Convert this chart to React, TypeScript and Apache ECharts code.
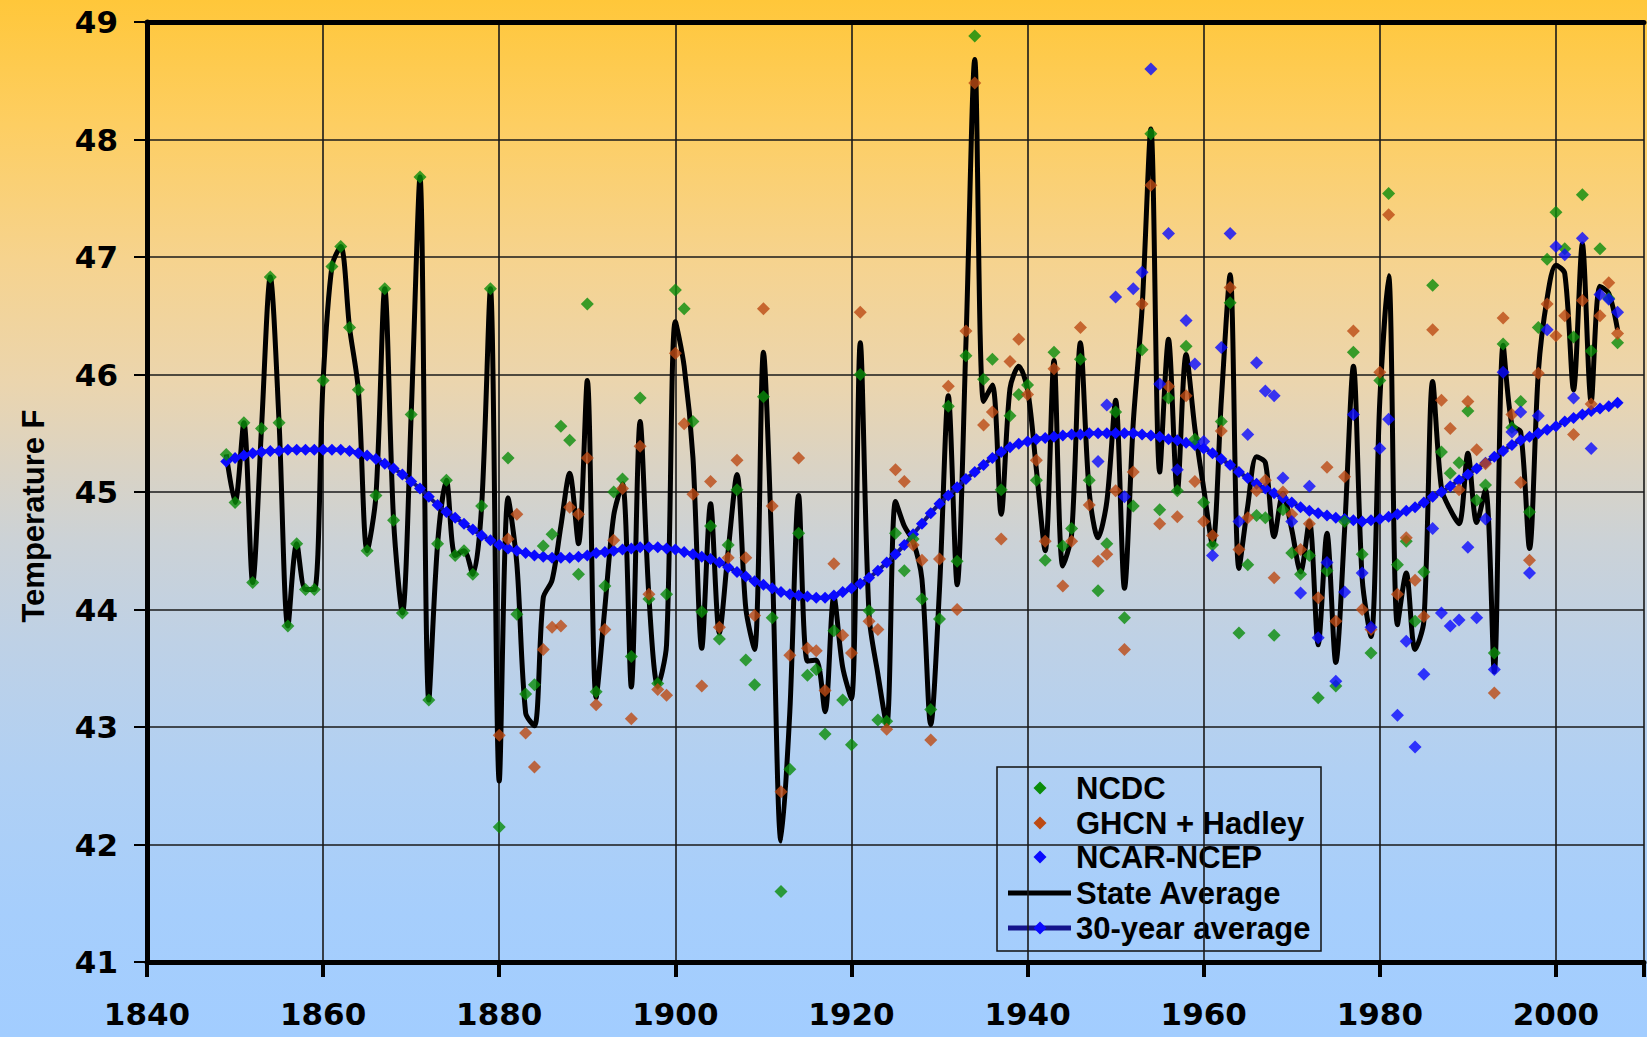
import React, { useEffect, useRef } from "react";
import * as echarts from "echarts";

// ---------- data ----------
const ncdcStart = 1849;
const ncdc = [
  45.32, 44.91, 45.59, 44.23, 45.54, 46.83, 45.59, 43.86, 44.56, 44.17, // 1849-1858
  44.17, 45.95, 46.92, 47.09, 46.4, 45.87, 44.5, 44.97, 46.73, 44.76, // 1859-1868
  43.97, 45.66, 47.68, 43.23, 44.56, 45.1, 44.46, 44.5, 44.3, 44.88, // 1869-1878
  46.73, 42.15, 45.29, 43.96, 43.28, 43.36, 44.54, 44.64, 45.56, 45.44, // 1879-1888
  44.3, 46.6, 43.3, 44.2, 45.0, 45.11, 43.6, 45.8, 44.09, 43.37, // 1889-1898
  44.13, 46.72, 46.56, 45.6, 43.98, 44.71, 43.75, 44.55, 45.02, 43.57, // 1899-1908
  43.36, 45.81, 43.93, 41.6, 42.64, 44.65, 43.44, 43.49, 42.94, 43.82, // 1909-1918
  43.23, 42.85, 46.0, 43.99, 43.06, 43.05, 44.65, 44.33, 44.6, 44.09, // 1919-1928
  43.15, 43.92, 45.73, 44.41, 46.16, 48.88, 45.96, 46.13, 45.02, 45.65, // 1929-1938
  45.83, 45.91, 45.1, 44.42, 46.19, 44.54, 44.69, 46.13, 45.1, 44.16, // 1939-1948
  44.56, 45.68, 43.93, 44.88, 46.21, 48.05, 44.85, 45.8, 45.01, 46.24, // 1949-1958
  45.45, 44.91, 44.55, 45.6, 46.61, 43.8, 44.38, 44.8, 44.78, 43.78, // 1959-1968
  44.85, 44.48, 44.3, 44.46, 43.25, 44.33, 43.35, 44.75, 46.19, 44.47, // 1969-1978
  43.63, 45.95, 47.54, 44.38, 44.58, 43.9, 44.32, 46.76, 45.34, 45.16, // 1979-1988
  45.25, 45.69, 44.93, 45.06, 43.63, 46.26, 45.55, 45.77, 44.83, 46.4, // 1989-1998
  46.98, 47.38, 47.07, 46.32, 47.53, 46.2, 47.07, 46.65, 46.27, // 1999-2007
];

const ghcnStart = 1880;
const ghcnHadley = [
  42.93, 44.6, 44.81, 42.95, 42.66, 43.66, 43.85, 43.86, 44.87, 44.81, // 1880s
  45.29, 43.19, 43.83, 44.59, 45.03, 43.07, 45.39, 44.13, 43.32, 43.27, // 1890s
  46.18, 45.58, 44.98, 43.35, 45.09, 43.85, 44.44, 45.27, 44.44, 43.95, // 1900s
  46.56, 44.88, 42.45, 43.61, 45.29, 43.67, 43.65, 43.31, 44.39, 43.78, // 1910s
  43.63, 46.53, 43.9, 43.83, 42.98, 45.19, 45.09, 44.55, 44.42, 42.89, // 1920s
  44.43, 45.9, 44.0, 46.37, 48.48, 45.57, 45.68, 44.6, 46.11, 46.3, // 1930s
  45.83, 45.27, 44.58, 46.05, 44.2, 44.58, 46.4, 44.89, 44.41, 44.47, // 1940s
  45.01, 43.66, 45.17, 46.6, 47.61, 44.73, 45.9, 44.79, 45.82, 45.09, // 1950s
  44.75, 44.63, 45.52, 46.74, 44.51, 44.78, 45.01, 45.1, 44.27, 45.0, // 1960s
  44.81, 44.51, 44.73, 44.1, 45.21, 43.9, 45.13, 46.37, 44.0, 43.83, // 1970s
  46.02, 47.36, 44.13, 44.61, 44.25, 43.94, 46.38, 45.78, 45.54, 45.02, // 1980s
  45.77, 45.36, 45.24, 43.29, 46.48, 45.66, 45.08, 44.42, 46.01, 46.6, // 1990s
  46.33, 46.5, 45.49, 46.63, 45.75, 46.5, 46.78, 46.35, // 2000-2007
];

const ncepStart = 1948;
const ncarNcep = [
  45.26, 45.74, 46.66, 44.96, 46.73, 46.87, 48.6, 45.92, 47.2, 45.19, // 1948-1957
  46.46, 46.09, 45.43, 44.46, 46.23, 47.2, 44.75, 45.49, 46.1, 45.86, // 1958-1967
  45.82, 45.12, 44.75, 44.14, 45.05, 43.76, 44.4, 43.39, 44.15, 45.66, // 1968-1977
  44.31, 43.85, 45.37, 45.62, 43.1, 43.73, 42.83, 43.45, 44.69, 43.97, // 1978-1987
  43.86, 43.91, 44.53, 43.93, 44.77, 43.49, 46.02, 45.51, 45.68, 44.31, // 1988-1997
  45.65, 46.38, 47.09, 47.02, 45.8, 47.16, 45.37, 46.68, 46.64, 46.53, // 1998-2007
];

const stateStart = 1849;
const stateAverage = [
  45.32, 44.91, 45.59, 44.23, 45.54, 46.83, 45.59, 43.86, 44.56, 44.17, // 1849-1858
  44.17, 45.95, 46.92, 47.09, 46.4, 45.87, 44.5, 44.97, 46.73, 44.76, // 1859-1868
  43.97, 45.66, 47.68, 43.23, 44.56, 45.1, 44.46, 44.5, 44.3, 44.88, // 1869-1878
  46.73, 42.54, 44.95, 44.39, 43.12, 43.01, 44.1, 44.25, 44.71, 45.16, // 1879-1888
  44.56, 45.95, 43.25, 44.02, 44.8, 45.07, 43.34, 45.6, 44.11, 43.35, // 1889-1898
  43.7, 46.45, 46.07, 45.29, 43.67, 44.9, 43.8, 44.5, 45.15, 44.01, // 1899-1908
  43.66, 46.19, 44.41, 42.03, 43.13, 44.97, 43.56, 43.57, 43.13, 44.11, // 1909-1918
  43.51, 43.24, 46.27, 43.95, 43.45, 43.02, 44.92, 44.71, 44.58, 44.26, // 1919-1928
  43.02, 44.18, 45.82, 44.21, 46.27, 48.68, 45.77, 45.91, 44.81, 45.88, // 1929-1938
  46.07, 45.87, 45.19, 44.5, 46.12, 44.37, 44.64, 46.27, 45.0, 44.61, // 1939-1948
  44.92, 45.78, 44.18, 45.59, 46.56, 48.09, 45.17, 46.3, 45.0, 46.17, // 1949-1958
  45.54, 45.03, 44.55, 45.78, 46.85, 44.35, 44.88, 45.3, 45.25, 44.62, // 1959-1968
  44.99, 44.68, 44.32, 44.75, 43.7, 44.65, 43.55, 44.68, 46.07, 44.26, // 1969-1978
  43.77, 45.78, 46.84, 43.87, 44.31, 43.66, 43.9, 45.94, 45.03, 44.85, // 1979-1988
  44.73, 45.33, 44.74, 45.02, 43.47, 46.25, 45.57, 45.51, 44.52, 46.02, // 1989-1998
  46.65, 46.93, 46.86, 45.87, 47.11, 45.77, 46.75, 46.69, 46.38, // 1999-2007
];

const avgStart = 1849;
const thirtyYearAverage = [
  45.26, 45.29, 45.31, 45.33, 45.34, 45.35, 45.35, 45.36, 45.36, 45.36, // 1849-1858
  45.36, 45.36, 45.36, 45.36, 45.35, 45.33, 45.31, 45.28, 45.24, 45.2, // 1859-1868
  45.15, 45.09, 45.03, 44.96, 44.89, 44.83, 44.78, 44.73, 44.68, 44.63, // 1869-1878
  44.59, 44.55, 44.52, 44.5, 44.48, 44.46, 44.45, 44.44, 44.44, 44.44, // 1879-1888
  44.45, 44.46, 44.48, 44.49, 44.5, 44.51, 44.52, 44.53, 44.53, 44.53, // 1889-1898
  44.52, 44.51, 44.49, 44.47, 44.45, 44.43, 44.4, 44.36, 44.32, 44.28, // 1899-1908
  44.24, 44.21, 44.18, 44.15, 44.13, 44.12, 44.11, 44.1, 44.1, 44.12, // 1909-1918
  44.15, 44.18, 44.22, 44.27, 44.33, 44.4, 44.47, 44.55, 44.64, 44.73, // 1919-1928
  44.82, 44.9, 44.97, 45.04, 45.11, 45.17, 45.23, 45.29, 45.34, 45.38, // 1929-1938
  45.41, 45.43, 45.45, 45.46, 45.47, 45.48, 45.49, 45.49, 45.5, 45.5, // 1939-1948
  45.5, 45.5, 45.5, 45.5, 45.49, 45.48, 45.47, 45.45, 45.44, 45.42, // 1949-1958
  45.4, 45.37, 45.33, 45.28, 45.23, 45.17, 45.12, 45.07, 45.03, 44.99, // 1959-1968
  44.95, 44.91, 44.87, 44.84, 44.82, 44.8, 44.78, 44.77, 44.76, 44.75, // 1969-1978
  44.76, 44.77, 44.79, 44.81, 44.84, 44.87, 44.91, 44.96, 45.0, 45.05, // 1979-1988
  45.1, 45.15, 45.2, 45.25, 45.3, 45.35, 45.4, 45.44, 45.47, 45.5, // 1989-1998
  45.53, 45.56, 45.6, 45.63, 45.66, 45.69, 45.71, 45.73, 45.76, // 1999-2007
];

const seriesNames = ["NCDC", "GHCN + Hadley", "NCAR-NCEP", "State Average", "30-year average"];
const xTicks = [1840, 1860, 1880, 1900, 1920, 1940, 1960, 1980, 2000];
const yTitle = "Temperature F";

const toPairs = (start: number, arr: number[]) => arr.map((v, i) => [start + i, v]);

const GREEN = "#0A8C0A";
const BROWN = "#BC4A14";
const BLUE = "#0A0AFF";
const NAVY = "#14148C";

const diamond = (cx: number, cy: number, r: number, fill: string) => ({
  type: "polygon",
  shape: { points: [[cx, cy - r], [cx + r, cy], [cx, cy + r], [cx - r, cy]] },
  style: { fill },
});

function buildLegend() {
  const rows = [21, 56, 90, 126, 161];
  const children: any[] = [
    {
      type: "rect",
      shape: { x: 0, y: 0, width: 324, height: 184 },
      style: { fill: "none", stroke: "#111", lineWidth: 1.5 },
    },
  ];
  const markerColors = [GREEN, BROWN, BLUE];
  seriesNames.forEach((name, i) => {
    const cy = rows[i];
    if (i < 3) {
      children.push(diamond(43, cy, 6.5, markerColors[i]));
    } else if (i === 3) {
      children.push({
        type: "line",
        shape: { x1: 11, y1: cy, x2: 74, y2: cy },
        style: { stroke: "#000", lineWidth: 5 },
      });
    } else {
      children.push({
        type: "line",
        shape: { x1: 11, y1: cy, x2: 74, y2: cy },
        style: { stroke: NAVY, lineWidth: 5 },
      });
      children.push(diamond(43, cy, 6.5, BLUE));
    }
    children.push({
      type: "text",
      x: 79,
      y: cy,
      style: {
        text: name,
        font: 'bold 31px "Liberation Sans"',
        fill: "#000",
        align: "left",
        verticalAlign: "middle",
      },
    });
  });
  return { type: "group", x: 997, y: 767, z: 100, children };
}

export default function App() {
  const ref = useRef<HTMLDivElement>(null);

  useEffect(() => {
    const el = ref.current;
    if (!el) return;
    const chart = echarts.init(el, null, { renderer: "svg" });
    const axisFont = { fontFamily: "DejaVu Sans", fontWeight: "bold" as const, fontSize: 31, color: "#000" };

    chart.setOption({
      animation: false,
      backgroundColor: "transparent",
      grid: { left: 147, right: 0, top: 22, bottom: 75, containLabel: false },
      xAxis: [
        {
          type: "value",
          min: 1840,
          max: 2010,
          interval: 20,
          axisLine: { show: true, lineStyle: { color: "#000", width: 5 } },
          axisTick: { show: true, length: 15, lineStyle: { color: "#000", width: 4 } },
          axisLabel: {
            ...axisFont,
            margin: 36,
            formatter: (v: number) => (xTicks.includes(v) ? String(v) : ""),
          },
          splitLine: { show: true, lineStyle: { color: "#1a1a1a", width: 1.6 } },
        },
        {
          type: "value",
          position: "top",
          min: 1840,
          max: 2010,
          interval: 20,
          axisLine: { show: true, lineStyle: { color: "#000", width: 5 } },
          axisTick: { show: false },
          axisLabel: { show: false },
          splitLine: { show: false },
        },
      ],
      yAxis: {
        type: "value",
        min: 41,
        max: 49,
        interval: 1,
        axisLine: { show: true, lineStyle: { color: "#000", width: 5 } },
        axisTick: { show: true, length: 13, lineStyle: { color: "#000", width: 2 } },
        axisLabel: { ...axisFont, margin: 29 },
        splitLine: { show: true, lineStyle: { color: "#1a1a1a", width: 1.6 } },
      },
      graphic: [
        {
          type: "text",
          x: 33,
          y: 516,
          rotation: Math.PI / 2,
          style: {
            text: yTitle,
            font: 'bold 31px "Liberation Sans"',
            fill: "#000",
            align: "center",
            verticalAlign: "middle",
          },
        },
        buildLegend(),
      ],
      series: [
        {
          name: seriesNames[3],
          type: "line",
          data: toPairs(stateStart, stateAverage),
          showSymbol: false,
          symbol: "none",
          smooth: 0.3,
          z: 2,
          lineStyle: { color: "#000", width: 5 },
          itemStyle: { color: "#000" },
        },
        {
          name: seriesNames[4],
          type: "line",
          data: toPairs(avgStart, thirtyYearAverage),
          symbol: "diamond",
          symbolSize: 12,
          showSymbol: true,
          smooth: true,
          z: 3,
          lineStyle: { color: NAVY, width: 4 },
          itemStyle: { color: BLUE },
        },
        {
          name: seriesNames[0],
          type: "scatter",
          data: toPairs(ncdcStart, ncdc),
          symbol: "diamond",
          symbolSize: 13,
          z: 4,
          itemStyle: { color: GREEN },
        },
        {
          name: seriesNames[1],
          type: "scatter",
          data: toPairs(ghcnStart, ghcnHadley),
          symbol: "diamond",
          symbolSize: 13,
          z: 4,
          itemStyle: { color: BROWN },
        },
        {
          name: seriesNames[2],
          type: "scatter",
          data: toPairs(ncepStart, ncarNcep),
          symbol: "diamond",
          symbolSize: 13,
          z: 4,
          itemStyle: { color: BLUE },
        },
      ],
    });
    return () => chart.dispose();
  }, []);

  return (
    <div
      ref={ref}
      style={{
        position: "fixed",
        left: 0,
        top: 0,
        width: 1647,
        height: 1037,
        background:
          "linear-gradient(to bottom, #FFC73A 0%, #FDCE62 12%, #F6D38E 25%, #EBD5AE 37%, #DAD3C4 45%, #CCD2D6 52%, #BED1E6 62%, #B0D0F4 75%, #A6CEFC 88%, #A2CDFF 100%)",
      }}
    />
  );
}
